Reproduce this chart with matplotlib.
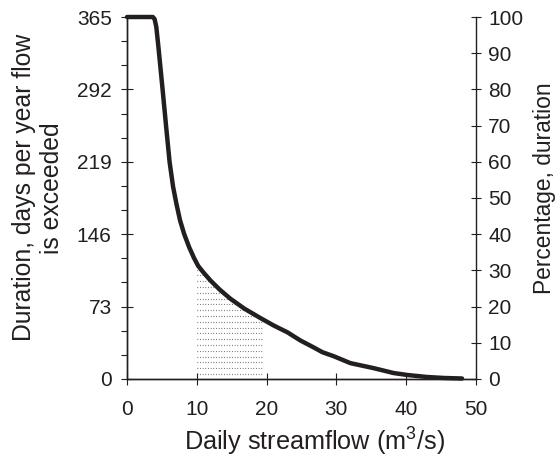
import matplotlib.pyplot as plt
import numpy as np
from matplotlib.ticker import MultipleLocator

plt.rcParams['font.family'] = ['Liberation Sans', 'DejaVu Sans']
plt.rcParams['mathtext.fontset'] = 'custom'
plt.rcParams['mathtext.rm'] = 'Liberation Sans'
plt.rcParams['mathtext.it'] = 'Liberation Sans'

# flow duration curve
flow = [0, 3.7, 3.95, 4.2, 4.5, 5.1, 5.6, 6.1, 6.6, 7.1, 7.6, 8.2, 8.9,
        9.6, 10.2, 11.0, 12.0, 13.3, 14.8, 16.8, 19.1, 21.0, 23.0, 24.8,
        26.7, 28.0, 29.6, 32.0, 35.3, 38.2, 40.2, 43.0, 45.5, 48.0]
days = [365, 365, 363, 355, 335, 292, 255, 219, 194, 176, 160, 146, 133,
        122, 114, 107, 99, 90, 81, 71, 61.5, 54, 47, 39,
        32, 27, 23, 16, 11, 6, 4, 2, 1, 0.5]

# shaded (stippled) flow band
band = [10, 19.3]

day_ticks = [0, 73, 146, 219, 292, 365]
pct_ticks = list(range(0, 101, 10))
flow_ticks = [0, 10, 20, 30, 40, 50]

ink = '#231f20'

fig = plt.figure(figsize=(5.56, 4.61), dpi=100)
ax = fig.add_axes([0.2284, 0.1779, 0.6277, 0.7852])

# stipple: rows of fine dots under the curve between the band limits
fx = np.array(flow[::-1])
fd = np.array(days[::-1])
for lev in np.arange(5, 116, 5.85):
    x_end = min(band[1], np.interp(lev, fd, fx))
    ax.plot([band[0], x_end], [lev, lev], color='#3a3a3a', lw=0.8,
            linestyle=(0, (0.6, 1.8)), zorder=1)

ax.plot(flow, days, color=ink, lw=3.2, solid_capstyle='round',
        solid_joinstyle='round', zorder=3, clip_on=False)

ax.set_xlim(0, 50)
ax.set_ylim(0, 365)
ax.set_xticks(flow_ticks)
ax.set_yticks(day_ticks)
ax.yaxis.set_minor_locator(MultipleLocator(365 / 15))

ax2 = ax.twinx()
ax2.set_ylim(0, 100)
ax2.set_yticks(pct_ticks)

for a in (ax, ax2):
    a.spines['top'].set_visible(False)
    for s in a.spines.values():
        s.set_color(ink)
        s.set_linewidth(1.0)

ax.spines['right'].set_visible(False)
ax.tick_params(axis='both', which='major', direction='inout', length=9,
               width=0.8, color=ink, labelsize=15, labelcolor=ink, pad=6.5)
ax.tick_params(axis='x', pad=10.5)
ax.tick_params(axis='y', which='minor', direction='out', length=4.5,
               width=0.8, color=ink)
ax2.tick_params(axis='y', direction='inout', length=7.5, width=0.8,
                color=ink, labelsize=15, labelcolor=ink, pad=5)

ax.set_xlabel('Daily streamflow (m$^3$/s)', fontsize=18.2, color=ink)
ax.xaxis.set_label_coords(0.536, -0.13)
ax.set_ylabel('Duration, days per year flow\nis exceeded', fontsize=17.8,
              color=ink, linespacing=1.2)
ax.yaxis.set_label_coords(-0.18, 0.528)
ax2.set_ylabel('Percentage, duration', fontsize=16.4, color=ink)
ax2.yaxis.set_label_coords(1.1625, 0.528)

fig.savefig('out.png', dpi=100)
